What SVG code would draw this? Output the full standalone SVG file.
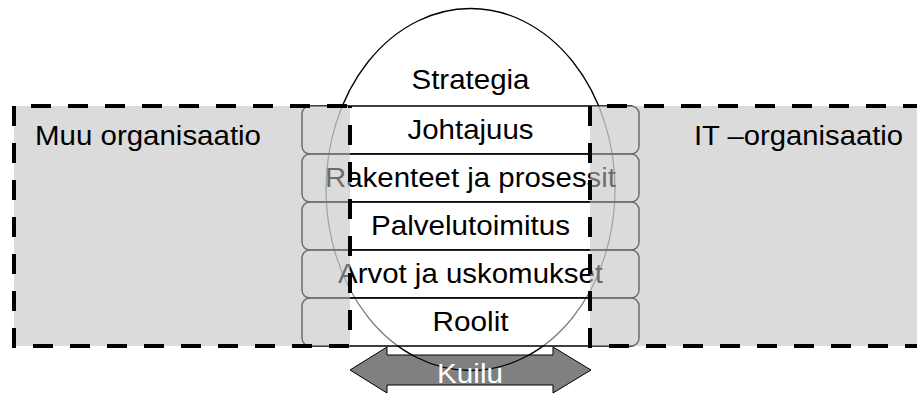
<svg xmlns="http://www.w3.org/2000/svg" width="917" height="394" viewBox="0 0 917 394">
  <style>
    .lbl { font-family: "Liberation Sans", Arial, sans-serif; font-size: 27.5px; fill: #000; }
    .mid { text-anchor: middle; }
    .row { fill: #fff; fill-opacity: 0.5; stroke: #000; stroke-width: 1.5; }
    .zone { fill: #c0c0c0; fill-opacity: 0.57; stroke: none; }
    .dash { fill: none; stroke: #000; stroke-width: 4; stroke-dasharray: 20 17; }
    .dash-top { stroke-dashoffset: 20; }
  </style>

  <rect x="0" y="0" width="917" height="394" fill="#fff"/>

  <!-- gap arrow (label drawn last) -->
  <g id="kuilu-arrow">
    <polygon points="350,370 387,347 387,355 553,355 553,347 591,370 553,393 553,385 387,385 387,393" fill="#808080" stroke="#000" stroke-width="1"/>
  </g>

  <!-- strategy ellipse -->
  <g id="strategia">
    <ellipse cx="470.5" cy="189.5" rx="144.5" ry="181" fill="none" stroke="#000" stroke-width="1.3"/>
    <text class="lbl mid" x="470.5" y="89" textLength="118" lengthAdjust="spacingAndGlyphs">Strategia</text>
  </g>

  <!-- shared layers -->
  <g id="johtajuus">
    <rect class="row" x="302" y="106" width="337" height="48" rx="8"/>
    <text class="lbl mid" x="470.5" y="139" textLength="126" lengthAdjust="spacingAndGlyphs">Johtajuus</text>
  </g>
  <g id="rakenteet">
    <rect class="row" x="302" y="154" width="337" height="48" rx="8"/>
    <text class="lbl mid" x="470.5" y="187" textLength="291" lengthAdjust="spacingAndGlyphs">Rakenteet ja prosessit</text>
  </g>
  <g id="palvelutoimitus">
    <rect class="row" x="302" y="202" width="337" height="48" rx="8"/>
    <text class="lbl mid" x="470.5" y="235" textLength="199" lengthAdjust="spacingAndGlyphs">Palvelutoimitus</text>
  </g>
  <g id="arvot">
    <rect class="row" x="302" y="250" width="337" height="48" rx="8"/>
    <text class="lbl mid" x="470.5" y="283" textLength="265" lengthAdjust="spacingAndGlyphs">Arvot ja uskomukset</text>
  </g>
  <g id="roolit">
    <rect class="row" x="302" y="298" width="337" height="48" rx="8"/>
    <text class="lbl mid" x="470.5" y="331" textLength="76" lengthAdjust="spacingAndGlyphs">Roolit</text>
  </g>

  <!-- organisation zones -->
  <g id="muu-organisaatio">
    <rect class="zone" x="14" y="106" width="336" height="240"/>
    <path class="dash" d="M14,106 V346 H350 V106"/>
    <path class="dash dash-top" d="M14,106 H350"/>
    <text class="lbl" x="35" y="145" textLength="226" lengthAdjust="spacingAndGlyphs">Muu organisaatio</text>
  </g>
  <g id="it-organisaatio">
    <rect class="zone" x="590" y="106" width="340" height="240"/>
    <path class="dash" d="M590,106 V346 H930"/>
    <path class="dash dash-top" d="M590,106 H930"/>
    <text class="lbl" x="694" y="145" textLength="209" lengthAdjust="spacingAndGlyphs">IT –organisaatio</text>
  </g>

  <g id="connectors">
    <text class="lbl mid" x="470" y="383" textLength="66" lengthAdjust="spacingAndGlyphs" style="fill:#fff">Kuilu</text>
  </g>
</svg>
